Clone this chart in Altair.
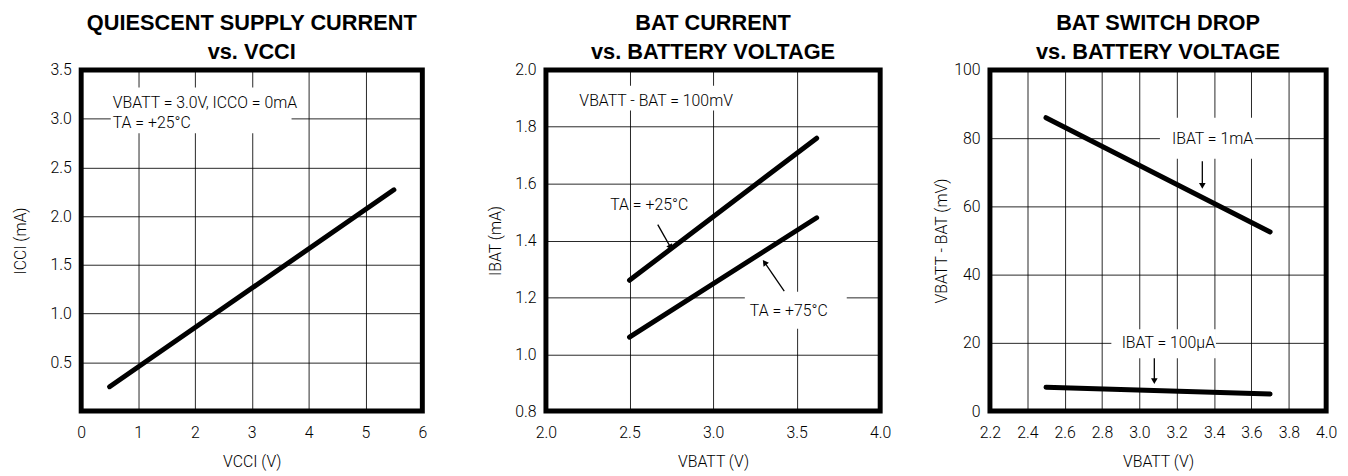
import altair as alt
import pandas as pd

FONT = "Roboto"
FW = 300

# ---------------- Panel 1: Quiescent supply current vs VCCI ----------------
p1_vcci = [0.5, 5.5]
p1_icci = [0.25, 2.27]
p1_xticks = [0, 1, 2, 3, 4, 5, 6]
p1_yticks = [0.5, 1.0, 1.5, 2.0, 2.5, 3.0, 3.5]
p1_text = ["VBATT = 3.0V, ICCO = 0mA", "TA = +25°C"]
p1_text_x = [0.556, 0.556]
p1_text_y = [3.16, 2.96]
p1_box = dict(x=[0.52], x2=[3.7], y=[2.85], y2=[3.32])

# ---------------- Panel 2: BAT current vs battery voltage ----------------
p2_vbatt = [2.5, 3.62]
p2_ibat_25 = [1.26, 1.76]
p2_ibat_75 = [1.06, 1.48]
p2_xticks = [2.0, 2.5, 3.0, 3.5, 4.0]
p2_yticks = [0.8, 1.0, 1.2, 1.4, 1.6, 1.8, 2.0]
p2_text = ["VBATT - BAT = 100mV", "TA = +25°C", "TA = +75°C"]
p2_text_x = [2.20, 2.385, 3.22]
p2_text_y = [1.89, 1.525, 1.152]
p2_box = dict(x=[2.17, 3.19], x2=[3.11, 3.80], y=[1.857, 1.09], y2=[1.944, 1.22])
p2_arrow = dict(x=[2.669, 3.426], y=[1.456, 1.222], x2=[2.746, 3.308], y2=[1.376, 1.323],
                angle=[150, 324])

# ---------------- Panel 3: BAT switch drop vs battery voltage ----------------
p3_vbatt = [2.5, 3.7]
p3_drop_1ma = [86, 52.5]
p3_drop_100ua = [7, 5]
p3_xticks = [2.2, 2.4, 2.6, 2.8, 3.0, 3.2, 3.4, 3.6, 3.8, 4.0]
p3_yticks = [0, 20, 40, 60, 80, 100]
p3_text = ["IBAT = 1mA", "IBAT = 100µA"]
p3_text_x = [3.175, 2.905]
p3_text_y = [79.6, 19.8]
p3_box = dict(x=[3.11, 2.85], x2=[3.62, 3.41], y=[74, 15.5], y2=[86, 24])
p3_arrow = dict(x=[3.337, 3.08], y=[73.2, 15.5], x2=[3.337, 3.08], y2=[66.0, 8.8],
                angle=[180, 180])


def panel(title, xdom, ydom, xticks, yticks, xfmt, yfmt, xtitle, ytitle, ytitle_x,
          lines, texts, boxes, arrows, width, height):
    xs = alt.Scale(domain=xdom, nice=False, zero=False)
    ys = alt.Scale(domain=ydom, nice=False, zero=False)
    xaxis = alt.Axis(values=xticks, format=xfmt, title=xtitle, grid=True, ticks=False,
                     domain=False, labelFlush=False, labelOverlap=False, labelPadding=14,
                     titleY=43)
    yaxis = alt.Axis(values=yticks, format=yfmt, title=ytitle, grid=True, ticks=False,
                     domain=False, labelFlush=False, labelOverlap=False, labelPadding=10,
                     titleX=ytitle_x)

    def X(f):
        return alt.X(f, scale=xs, axis=xaxis)

    def Y(f):
        return alt.Y(f, scale=ys, axis=yaxis)

    layers = []
    box_df = pd.DataFrame(boxes)
    layers.append(
        alt.Chart(box_df).mark_rect(color="white").encode(
            x=X("x:Q"), x2="x2:Q", y=Y("y:Q"), y2="y2:Q"))
    layers.append(
        alt.Chart(lines).mark_line(color="black", strokeWidth=5, strokeCap="round").encode(
            x=X("x:Q"), y=Y("y:Q"), detail="s:N"))
    if arrows is not None:
        adf = pd.DataFrame(arrows)
        layers.append(
            alt.Chart(adf).mark_rule(color="black", strokeWidth=1.3).encode(
                x=X("x:Q"), y=Y("y:Q"), x2="x2:Q", y2="y2:Q"))
        layers.append(
            alt.Chart(adf).mark_point(shape="triangle-up", filled=True, color="black",
                                      size=45, opacity=1).encode(
                x=X("x2:Q"), y=Y("y2:Q"),
                angle=alt.Angle("angle:Q", scale=None)))
    layers.append(
        alt.Chart(texts).mark_text(font=FONT, fontWeight=FW, fontSize=16, align="left",
                                   baseline="middle", color="black").encode(
            x=X("x:Q"), y=Y("y:Q"), text="t:N"))
    return alt.layer(*layers).properties(
        width=width, height=height,
        title=alt.TitleParams(text=title, anchor="middle", frame="group"))


def line_df(xs_list, ys_lists):
    rows = []
    for i, ys_ in enumerate(ys_lists):
        for xv, yv in zip(xs_list, ys_):
            rows.append({"x": xv, "y": yv, "s": str(i)})
    return pd.DataFrame(rows)


def text_df(t, x, y):
    return pd.DataFrame({"t": t, "x": x, "y": y})


c1 = panel(["QUIESCENT SUPPLY CURRENT", "vs. VCCI"], [0, 6], [0, 3.5], p1_xticks, p1_yticks,
           "d", ".1f", "VCCI (V)", "ICCI (mA)", -53,
           line_df(p1_vcci, [p1_icci]), text_df(p1_text, p1_text_x, p1_text_y),
           p1_box, None, 345, 345)
c2 = panel(["BAT CURRENT", "vs. BATTERY VOLTAGE"], [2.0, 4.0], [0.8, 2.0], p2_xticks, p2_yticks,
           ".1f", ".1f", "VBATT (V)", "IBAT (mA)", -43,
           line_df(p2_vbatt, [p2_ibat_25, p2_ibat_75]), text_df(p2_text, p2_text_x, p2_text_y),
           p2_box, p2_arrow, 338, 345)
c3 = panel(["BAT SWITCH DROP", "vs. BATTERY VOLTAGE"], [2.2, 4.0], [0, 100], p3_xticks, p3_yticks,
           ".1f", "d", "VBATT (V)", "VBATT - BAT (mV)", -41,
           line_df(p3_vbatt, [p3_drop_1ma, p3_drop_100ua]), text_df(p3_text, p3_text_x, p3_text_y),
           p3_box, p3_arrow, 340, 345)

chart = alt.hconcat(alt.hconcat(c1, c2, spacing=56), c3, spacing=37).properties(
    padding={"left": 2, "top": -1, "right": 0, "bottom": 0}
).configure_view(
    stroke="black", strokeWidth=5
).configure_axis(
    labelFont=FONT, titleFont=FONT, labelFontSize=16, titleFontSize=16,
    labelFontWeight=FW, titleFontWeight=FW,
    labelColor="black", titleColor="black",
    gridColor="black", gridWidth=1, gridOpacity=0.85
).configure_title(
    font="Liberation Sans", fontSize=22, fontWeight="bold", lineHeight=29,
    offset=-2, color="black"
)

chart.save("out.html", embed_options={"renderer": "svg", "actions": False})
